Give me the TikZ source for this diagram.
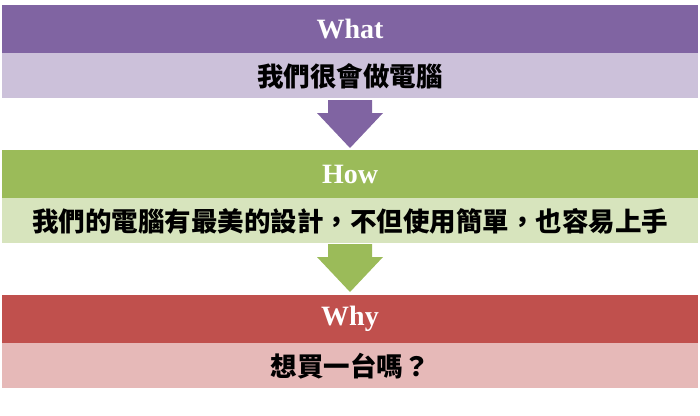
\documentclass[tikz,border=0pt]{standalone}
\usepackage{fontspec}
\setmainfont{Liberation Serif}
\newfontfamily\cjk{Noto Sans CJK TC}
\usetikzlibrary{positioning}
\definecolor{purpleD}{HTML}{8064A2}
\definecolor{purpleL}{HTML}{CCC1DA}
\definecolor{greenD}{HTML}{9BBB59}
\definecolor{greenL}{HTML}{D7E4BD}
\definecolor{redD}{HTML}{C0504D}
\definecolor{redL}{HTML}{E6B9B8}
\tikzset{
  head/.style={minimum width=696pt, minimum height=48pt, inner sep=0pt,
    text=white, font=\fontsize{28}{28}\selectfont\bfseries},
  body/.style={minimum width=696pt, minimum height=45pt, inner sep=0pt,
    font=\cjk\fontsize{26.5}{26.5}\selectfont\bfseries},
}
\begin{document}
\begin{tikzpicture}[x=1pt, y=-1pt]
  \useasboundingbox (0,0) rectangle (700,415);
  % what
  \node[head, fill=purpleD] (what) at (350,29) {What};
  \node[body, fill=purpleL, below=0pt of what] (whatText) {我們很會做電腦};
  \fill[purpleD] (328,100) -- (372,100) -- (372,113) -- (383,113)
    -- (350,148) -- (317,113) -- (328,113) -- cycle;
  % how
  \node[head, fill=greenD] (how) at (350,174) {How};
  \node[body, fill=greenL, below=0pt of how] (howText)
    {我們的電腦有最美的設計，不但使用簡單，也容易上手};
  \fill[greenD] (328,244) -- (372,244) -- (372,257) -- (383,257)
    -- (350,292) -- (317,257) -- (328,257) -- cycle;
  % why
  \node[head, fill=redD] (why) at (350,319) {Why};
  \node[body, fill=redL, below=0pt of why] (whyText) {想買一台嗎？};
\end{tikzpicture}
\end{document}
